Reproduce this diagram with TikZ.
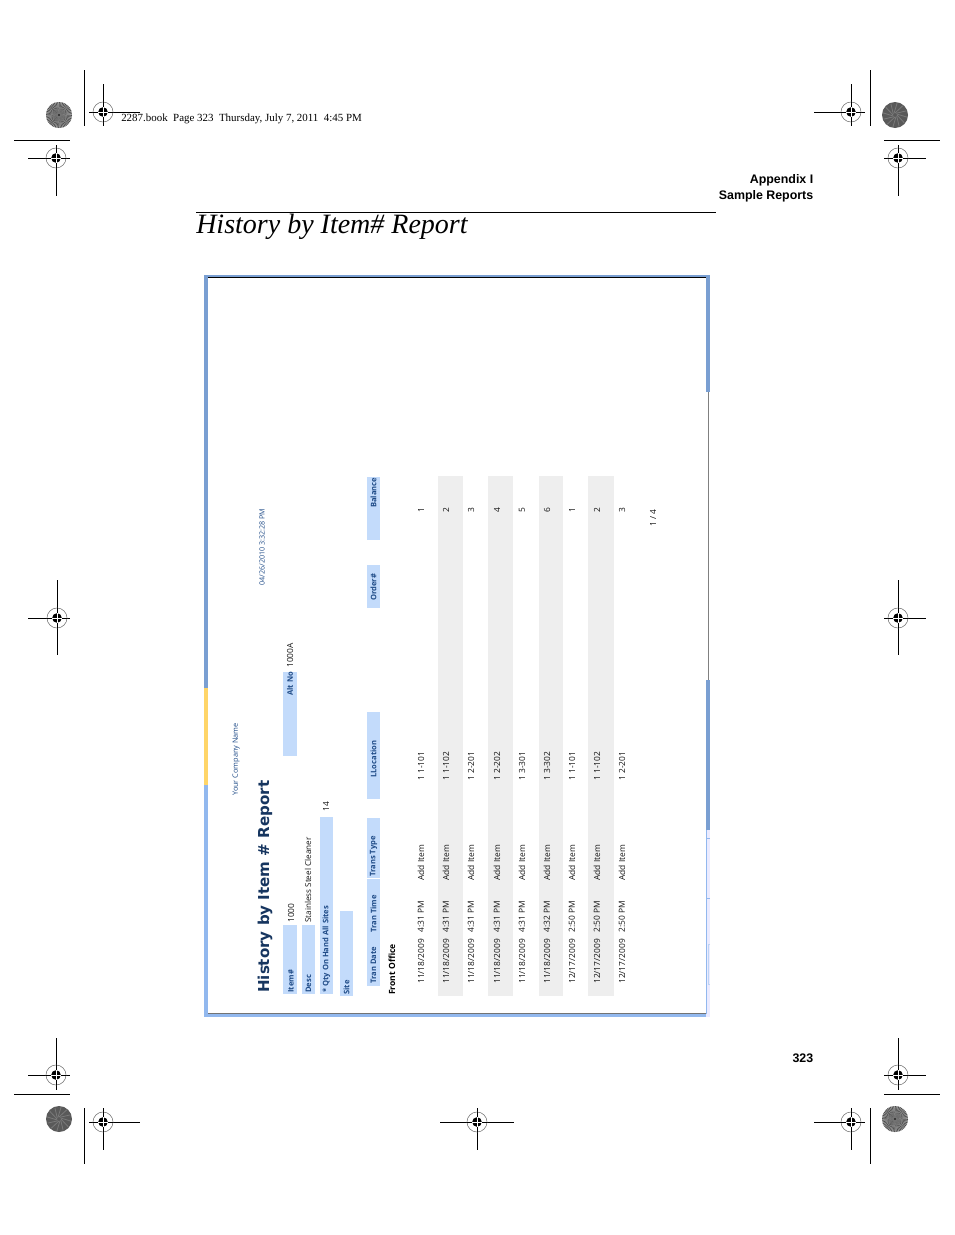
\documentclass[tikz,border=0pt]{standalone}
\usepackage{fontspec}
\setmainfont{Liberation Serif}
\setsansfont{Liberation Sans}
\newfontfamily\rptfont{Open Sans}
\newfontfamily\rptbold{DejaVu Sans}[BoldFont={DejaVu Sans Bold}]
\definecolor{bandblue}{HTML}{7A9FD2}
\definecolor{paleblue}{HTML}{92B8EE}
\definecolor{fieldblue}{HTML}{C3DBFB}
\definecolor{rowgrey}{HTML}{EEEEEE}
\definecolor{navytext}{HTML}{1F4B87}
\definecolor{tabyellow}{HTML}{FFD568}
\tikzset{
	field/.style={fill=fieldblue,draw=none},
	stripe/.style={fill=rowgrey,draw=none},
	cell/.style={rotate=90,anchor=west,inner sep=0pt,font=\rptfont\fontsize{6.3}{7}\selectfont,text=black!92},
	head/.style={cell,font=\rptfont\bfseries\fontsize{5.7}{7}\selectfont,text=navytext},
	cropline/.style={line width=0.75pt,black},
	pics/regmark/.style={code={
		\fill[white] (0,0) circle (10);
		\draw[black!55,line width=0.4pt] (0,0) circle (10);
		\draw[cropline] (-10,0) -- (10,0) (0,-10) -- (0,10);
		\fill[black] (0,0) circle (4.8);
		\draw[white,line width=0.35pt] (-5,0) -- (5,0) (0,-5) -- (0,5);
	}},
	pics/burst/.style={code={
		\fill[gray!70] (0,0) circle (13);
		\foreach \a in {0,7.5,...,352.5}
			\fill[black!70] (0,0) -- (\a:13) arc (\a:\a+3.5:13) -- cycle;
		\fill[black!55] (0,0) circle (3);
		\fill[black] (0,0) circle (0.8);
	}},
	pics/dullball/.style={code={
		\fill[black!65] (0,0) circle (13);
		\foreach \a in {0,30,...,330}
			\draw[black!52,line width=0.6pt] (\a:2) -- (\a+40:12);
	}},
}
\begin{document}
\begin{tikzpicture}[x=0.75pt,y=-0.75pt]
	\useasboundingbox (0,0) rectangle (954,1235);
	% crop marks, corners first
	\foreach \cx/\cy/\xa/\xb/\ya/\yb in {103/112/89/140/84/126,56/158/28/70/145/196,851/112/814/865/84/126,898/158/884/926/145/196,57/618/28/70/580/655,898/618/884/926/580/655,56/1075/28/70/1038/1090,103/1122/89/140/1108/1150,477/1122/440/514/1108/1150,851/1122/814/865/1108/1150,898/1075/884/926/1038/1090}{
		\draw[cropline] (\xa,\cy) -- (\xb,\cy);
		\draw[cropline] (\cx,\ya) -- (\cx,\yb);
		\pic at (\cx,\cy) {regmark};
	}
	\draw[cropline] (84.5,70) -- (84.5,126);
	\draw[cropline] (870,70) -- (870,126);
	\draw[cropline] (84.5,1108) -- (84.5,1164);
	\draw[cropline] (870,1108) -- (870,1164);
	\draw[cropline] (14,140) -- (70,140);
	\draw[cropline] (884,140) -- (940,140);
	\draw[cropline] (14,1094) -- (70,1094);
	\draw[cropline] (884,1094) -- (940,1094);
	\pic at (59,115) {burst};
	\pic at (895,115) {dullball};
	\pic at (59,1119) {dullball};
	\pic at (895,1119) {burst};

	\node[anchor=base west,inner sep=0pt,font=\fontsize{8.2}{9}\selectfont] (runhead) at (121,121) {2287.book\ \ Page 323\ \ Thursday, July 7, 2011\ \ 4:45 PM};
	\node[anchor=base east,inner sep=0pt,font=\sffamily\bfseries\fontsize{9.3}{11}\selectfont] (appx) at (813.5,183) {Appendix I};
	\node[anchor=base east,inner sep=0pt,font=\sffamily\bfseries\fontsize{9.3}{11}\selectfont] (sample) at (813.5,199) {Sample Reports};
	\node[anchor=base east,inner sep=0pt,font=\sffamily\bfseries\fontsize{9.3}{11}\selectfont] (pageno) at (813.5,1062) {323};
	\draw[line width=0.75pt] (196,212.5) -- (716,212.5);
	\node[anchor=base west,inner sep=0pt,font=\itshape\fontsize{21}{24}\selectfont] (title) at (196,233) {History by Item\# Report};

	% screenshot frame
	\fill[bandblue] (204,275) rectangle (207.5,688);
	\fill[tabyellow] (204,688) rectangle (207.5,785);
	\fill[paleblue] (204,785) rectangle (207.5,1017);
	\fill[bandblue] (204,275) rectangle (710,277);
	\fill[paleblue] (204,1014) rectangle (706,1017);
	\fill[black] (207.5,277) rectangle (706,278);
	\fill[black!55] (207.5,1013) rectangle (706,1014);
	\fill[bandblue] (706,275) rectangle (710,392);
	\draw[black!50,line width=0.5pt] (708,392) -- (708,680);
	\fill[bandblue] (706,680) rectangle (710,830);
	\fill[blue!8] (706,830) rectangle (710,1017);
	\draw[paleblue,line width=0.5pt] (706,830) -- (706,1014) (706,838) -- (710,838) (706,898) -- (710,898);
	\draw[paleblue!60,line width=0.5pt] (710,944) -- (708,944) -- (708,984) -- (710,984);

	% coloured fields
	\foreach \xa/\ya/\xb/\yb in {283/925/297/994,302/925/315/994,320/817/333/994,340/911/353/996,283/672/297/756,367/878.5/380/986,367/818/380/878,367/712/380/799,367/565/380/608,367/477/380/540}
		\fill[field] (\xa,\ya) rectangle (\xb,\yb);
	\foreach \xa/\xb in {438/463,488/513,539/563,588/614}
		\fill[stripe] (\xa,476) rectangle (\xb,996);

	% report heading
	\node[head,font=\rptfont\fontsize{5.5}{7}\selectfont] (company) at (236,796) {Your Company Name};
	\node[head,font=\rptfont\fontsize{5.4}{7}\selectfont] (stamp) at (262,586) {04/26/2010 3:32:28 PM};
	\node[rotate=90,anchor=west,inner sep=0pt,font=\rptbold\bfseries\fontsize{11.3}{13}\selectfont,text=navytext!70!black] (rpttitle) at (265,993) {History by Item \# Report};

	\node[head] (itemlbl) at (291,993) {Item\#};
	\node[head] (desclbl) at (308.5,993) {Desc};
	\node[head] (qtylbl) at (326.5,993) {* Qty On Hand All Sites};
	\node[head] (sitelbl) at (346.5,995) {Site};
	\node[head] (altlbl) at (290,696) {Alt No};
	\node[cell] (itemval) at (291,923) {1000};
	\node[cell,font=\rptfont\fontsize{6.1}{7}\selectfont] (descval) at (308,923) {Stainless Steel Cleaner};
	\node[cell] (qtyval) at (326,812) {14};
	\node[cell] (altval) at (290,668) {1000A};

	\node[head] (hdate) at (373.5,984) {Tran Date};
	\node[head] (htime) at (373.5,933) {Tran Time};
	\node[head] (htype) at (373.5,877) {Trans Type};
	\node[head] (hloc) at (373.5,778) {LLocation};
	\node[head] (hord) at (373.5,601) {Order\#};
	\node[head] (hbal) at (373.5,508) {Balance};
	\node[cell,font=\rptfont\bfseries\fontsize{6.4}{7}\selectfont,text=black] (front) at (392,995) {Front Office};

	\foreach \i/\rx/\d/\t/\l/\b in {1/421/11\slash 18\slash 2009/4:31 PM/1 1-101/1,2/446/11\slash 18\slash 2009/4:31 PM/1 1-102/2,3/471/11\slash 18\slash 2009/4:31 PM/1 2-201/3,4/497/11\slash 18\slash 2009/4:31 PM/1 2-202/4,5/522/11\slash 18\slash 2009/4:31 PM/1 3-301/5,6/547/11\slash 18\slash 2009/4:32 PM/1 3-302/6,7/572/12\slash 17\slash 2009/2:50 PM/1 1-101/1,8/597/12\slash 17\slash 2009/2:50 PM/1 1-102/2,9/622/12\slash 17\slash 2009/2:50 PM/1 2-201/3}{
		\node[cell] (date\i) at (\rx,984) {\d};
		\node[cell] (time\i) at (\rx,933) {\t};
		\node[cell] (type\i) at (\rx,881) {Add Item};
		\node[cell] (loc\i) at (\rx,781) {\l};
		\node[cell,anchor=center] (bal\i) at (\rx,510) {\b};
	}
	\node[cell,anchor=center] (pager) at (653,518) {1 / 4};
\end{tikzpicture}
\end{document}
